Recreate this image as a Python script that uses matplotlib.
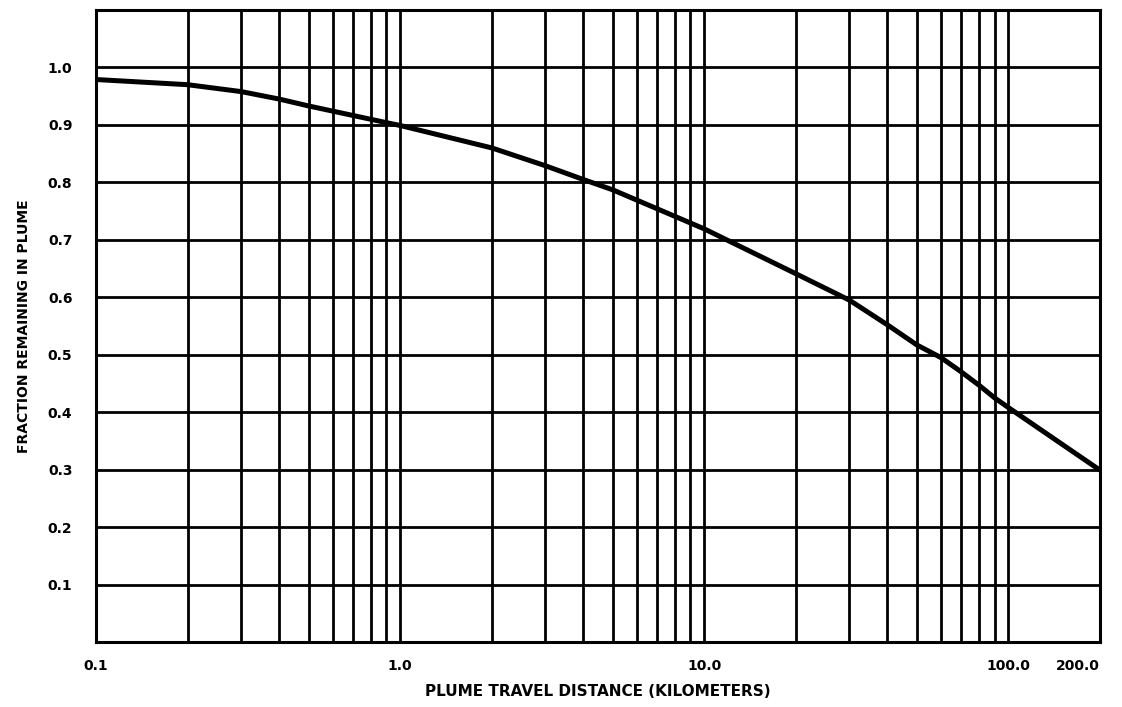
import matplotlib
matplotlib.use("Agg")
import matplotlib.pyplot as plt
import numpy as np

# Data
distance_km = [0.1, 0.2, 0.3, 0.4, 0.5, 0.9, 1.0, 2.0, 3.0, 4.0, 5.0, 10.0, 20.0, 30.0, 40.0,
               50.0, 60.0, 70.0, 80.0, 90.0, 100.0, 200.0]
fraction = [0.979, 0.970, 0.958, 0.945, 0.933, 0.904, 0.899, 0.860, 0.829, 0.805, 0.787, 0.719,
            0.641, 0.595, 0.552, 0.517, 0.495, 0.470, 0.447, 0.425, 0.408, 0.299]

x_tick_values = [0.1, 1.0, 10.0, 100.0, 200.0]
x_tick_labels = ["0.1", "1.0", "10.0", "100.0", "200.0"]
y_tick_values = [0.1, 0.2, 0.3, 0.4, 0.5, 0.6, 0.7, 0.8, 0.9, 1.0]
y_tick_labels = ["0.1", "0.2", "0.3", "0.4", "0.5", "0.6", "0.7", "0.8", "0.9", "1.0"]
x_grid_values = [0.2, 0.3, 0.4, 0.5, 0.6, 0.7, 0.8, 0.9, 1, 2, 3, 4, 5, 6, 7, 8, 9, 10,
                 20, 30, 40, 50, 60, 70, 80, 90, 100]

plt.rcParams['font.family'] = ['DejaVu Sans']
fig = plt.figure(figsize=(11.22, 7.07), dpi=100)
ax = fig.add_axes([96/1122, 65/707, 1004/1122, 632/707])
ax.set_xscale('log')
ax.set_xlim(0.1, 200)
ax.set_ylim(0, 1.1)

for xv in x_grid_values:
    ax.axvline(xv, color='black', lw=2.0, zorder=1)
for yv in y_tick_values:
    ax.axhline(yv, color='black', lw=2.0, zorder=1)

ax.plot(distance_km, fraction, color='black', lw=3.6, zorder=3,
        solid_capstyle='butt', solid_joinstyle='round')

for s in ax.spines.values():
    s.set_linewidth(2.2)

ax.xaxis.set_minor_locator(matplotlib.ticker.NullLocator())
ax.set_xticks(x_tick_values)
ax.set_xticklabels(x_tick_labels, fontsize=10, fontweight='bold')
ax.set_yticks(y_tick_values)
ax.set_yticklabels(y_tick_labels, fontsize=10, fontweight='bold')
ax.tick_params(axis='both', length=0)
ax.tick_params(axis='x', pad=12)
ax.tick_params(axis='y', pad=17)
labs = ax.get_xticklabels()
labs[-1].set_horizontalalignment('right')

ax.set_xlabel("PLUME TRAVEL DISTANCE (KILOMETERS)", fontsize=11, fontweight='bold', labelpad=8)
ax.set_ylabel("FRACTION REMAINING IN PLUME", fontsize=10, fontweight='bold', labelpad=12)

fig.savefig("out.png", dpi=100, facecolor='white')
